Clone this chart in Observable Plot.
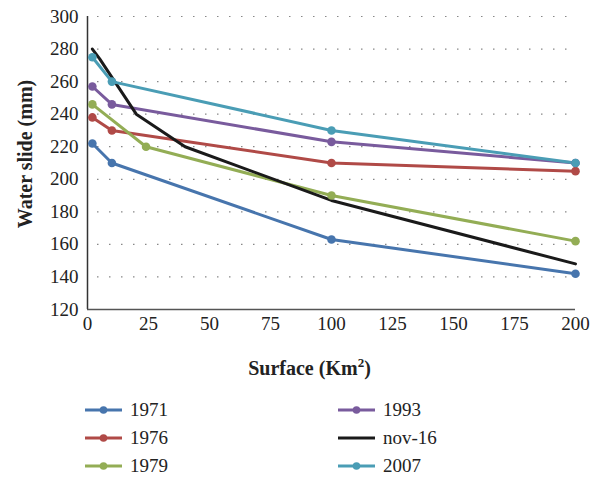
<!DOCTYPE html>
<html>
<head>
<meta charset="utf-8">
<script src="https://cdn.jsdelivr.net/npm/d3@7"></script>
<script src="https://cdn.jsdelivr.net/npm/@observablehq/plot@0.6"></script>
<style>
  html, body { margin: 0; padding: 0; background: #fff; }
  body { width: 600px; height: 479px; overflow: hidden; font-family: "Liberation Serif", "DejaVu Serif", serif; }
  #legend { position: relative; height: 89px; }
  .item { position: absolute; display: flex; align-items: center; font-size: 19px; color: #222; }
  .item svg { margin-right: 8px; }
</style>
</head>
<body>
<div id="chart"></div>
<div id="legend"></div>
<script>
const seriesNames = ["1971", "1976", "1979", "1993", "nov-16", "2007"];
const seriesColors = ["#4775AD", "#B04A47", "#93AD55", "#795B9D", "#1a1a1a", "#4A9DB5"];
const seriesMarkers = [true, true, true, true, false, true];

const x1971 = [2, 10, 100, 200];
const y1971 = [222, 210, 163, 142];
const x1976 = [2, 10, 100, 200];
const y1976 = [238, 230, 210, 205];
const x1979 = [2, 24, 100, 200];
const y1979 = [246, 220, 190, 162];
const x1993 = [2, 10, 100, 200];
const y1993 = [257, 246, 223, 210];
const xNov16 = [2, 5, 20, 40, 100, 200];
const yNov16 = [280, 274, 240, 220, 187, 148];
const x2007 = [2, 10, 100, 200];
const y2007 = [275, 260, 230, 210];

const xTicks = [0, 25, 50, 75, 100, 125, 150, 175, 200];
const yTicks = [120, 140, 160, 180, 200, 220, 240, 260, 280, 300];
const xTitle = "Surface (Km2)";
const yTitle = "Water slide (mm)";

const xs = [x1971, x1976, x1979, x1993, xNov16, x2007];
const ys = [y1971, y1976, y1979, y1993, yNov16, y2007];
const data = [];
seriesNames.forEach((name, i) => {
  xs[i].forEach((xv, j) => data.push({series: name, x: xv, y: ys[i][j], marker: seriesMarkers[i]}));
});

const font = "Liberation Serif, DejaVu Serif, serif";
const chart = Plot.plot({
  width: 600,
  height: 390,
  marginLeft: 87,
  marginRight: 25,
  marginTop: 16,
  marginBottom: 81,
  style: {fontFamily: font, fontSize: "19px", color: "#222", background: "#fff"},
  x: {domain: [0, 200], ticks: xTicks, label: null},
  y: {domain: [120, 300], ticks: yTicks, label: null},
  color: {domain: seriesNames, range: seriesColors},
  marks: [
    Plot.gridY(yTicks.slice(1), {stroke: "#888", strokeOpacity: 1, strokeWidth: 1.2, strokeDasharray: "1.5,10.5", strokeDashoffset: -10}),
    Plot.axisX({ticks: xTicks, tickSize: 0, tickPadding: 7, fontSize: 19, label: null}),
    Plot.axisY({ticks: yTicks, tickSize: 0, tickPadding: 9, fontSize: 19, label: null}),
    Plot.ruleX([0], {stroke: "#333", strokeWidth: 1.5}),
    Plot.ruleY([120], {stroke: "#555", strokeWidth: 1.5}),
    Plot.line(data, {x: "x", y: "y", z: "series", stroke: "series", strokeWidth: 3}),
    Plot.dot(data.filter(d => d.marker), {x: "x", y: "y", fill: "series", r: 4.3}),
    Plot.text([xTitle], {frameAnchor: "bottom", dx: -22, dy: 65, fontWeight: "bold", fontSize: 20, fill: "#222", className: "xtitle"}),
    Plot.text([yTitle], {frameAnchor: "left", textAnchor: "middle", dx: -62, dy: -9, rotate: -90, fontWeight: "bold", fontSize: 20, fill: "#222"})
  ]
});
document.getElementById("chart").appendChild(chart);

// superscript the "2" in the x title
chart.querySelectorAll("text").forEach(t => {
  if (t.textContent === xTitle) {
    t.textContent = "";
    const ns = "http://www.w3.org/2000/svg";
    const a = document.createElementNS(ns, "tspan"); a.textContent = "Surface (Km";
    const b = document.createElementNS(ns, "tspan"); b.textContent = "2"; b.setAttribute("font-size", "13"); b.setAttribute("dy", "-8");
    const c = document.createElementNS(ns, "tspan"); c.textContent = ")"; c.setAttribute("dy", "8");
    t.append(a, b, c);
  }
});

const legend = document.getElementById("legend");
const positions = [[85, 21], [85, 49], [85, 77], [338, 21], [338, 49], [338, 77]];
seriesNames.forEach((name, i) => {
  const item = document.createElement("div");
  item.className = "item";
  item.style.left = positions[i][0] + "px";
  item.style.top = (positions[i][1] - 12) + "px";
  const c = seriesColors[i];
  item.innerHTML = `<svg width="37" height="10"><line x1="0" y1="5" x2="37" y2="5" stroke="${c}" stroke-width="3"/>` +
    (seriesMarkers[i] ? `<circle cx="18.5" cy="5" r="3.8" fill="${c}"/>` : "") + `</svg><span>${name}</span>`;
  legend.appendChild(item);
});
</script>
</body>
</html>
